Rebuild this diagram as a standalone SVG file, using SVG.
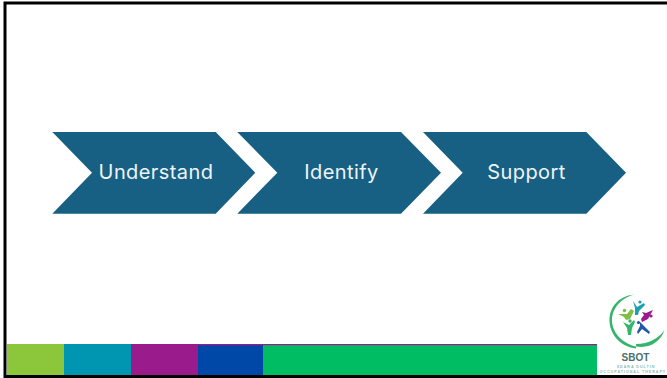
<svg xmlns="http://www.w3.org/2000/svg" width="667" height="378" viewBox="0 0 667 378">
<defs>
<filter id="soft" x="-10%" y="-10%" width="120%" height="120%"><feGaussianBlur stdDeviation="0.45"/></filter>
</defs>
<style>
.chev{fill:#176083}
.lbl{font-family:"Inter","Liberation Sans",sans-serif;font-size:20px;letter-spacing:.42px;fill:#eef4f7;text-anchor:middle}
.tiny{font-family:"Liberation Sans",sans-serif;font-size:3.6px;font-weight:700;fill:#86b9b4;text-anchor:middle;letter-spacing:1px}
</style>
<rect width="667" height="378" fill="#fff"/>
<g id="footer-bars">
<rect x="7" y="344" width="57" height="31" fill="#8cc63a"/>
<rect x="64" y="344" width="67" height="31" fill="#0096b1"/>
<rect x="131" y="344" width="67" height="31" fill="#9a1b8c"/>
<rect x="198" y="344" width="65" height="31" fill="#0048a8"/>
<rect x="263" y="344" width="334" height="31" fill="#00bd63"/>
<rect x="198" y="344" width="399" height="1.2" fill="#9a1b8c"/>
</g>
<g id="frame">
<rect x="5" y="3" width="664" height="373.5" fill="none" stroke="#000" stroke-width="3"/>
</g>
<g id="node-understand">
<polygon class="chev" points="52.3,132 215.7,132 255.3,172.8 215.7,213.7 52.3,213.7 92,172.8"/>
<text class="lbl" x="156" y="179">Understand</text>
</g>
<g id="node-identify">
<polygon class="chev" points="237.3,132 401,132 441,172.8 401,213.7 237.3,213.7 277.3,172.8"/>
<text class="lbl" x="341.5" y="179">Identify</text>
</g>
<g id="node-support">
<polygon class="chev" points="423,132 586.3,132 626,172.8 586.3,213.7 423,213.7 462.7,172.8"/>
<text class="lbl" x="526.5" y="179">Support</text>
</g>
<g id="logo">
<g filter="url(#soft)">
<path d="M634 294.5C618 296 609 308 609.5 321C610 335 621 347 636 348.5L636 346.5C624 344 612.5 334 612 321C611.5 309 621 298 634 294.5Z" fill="#35b56c"/>
<path d="M636 346.5C650 349 661 341 664.5 330C659 338 649 344 636 344Z" fill="#35b56c"/>
<path d="M618 314L627 314L631 309L634 311L630 319L626 320L624 317Z" fill="#7fbf45"/>
<circle cx="624.5" cy="310.5" r="1.8" fill="#7fbf45"/>
<path d="M633 301L637 307L644 303L645 305L639 311L638 315L635 315L635 308Z" fill="#1f9fb0"/>
<circle cx="640" cy="302" r="1.6" fill="#1f9fb0"/>
<path d="M653 310L648 319L642 322L641 319L644 315L642 312L646 313Z" fill="#9a1b8c"/>
<circle cx="651" cy="316" r="1.6" fill="#9a1b8c"/>
<path d="M640 322L644 326L650 332L649 334L642 329L638 334L637 332L640 326Z" fill="#2458a8"/>
<circle cx="638.5" cy="322.5" r="1.6" fill="#2458a8"/>
<path d="M623 322L629 325L634 320L635 322L632 328L631 335L628 335L627 328Z" fill="#35b56c"/>
<circle cx="630" cy="321" r="1.7" fill="#35b56c"/>
</g>
<text x="635.5" y="361" font-family="Liberation Sans,sans-serif" font-size="10" font-weight="700" fill="#4b6f70" text-anchor="middle">SBOT</text>
<text class="tiny" x="636" y="368">SDARA DULTIN</text>
<text class="tiny" x="633" y="372.5">OCCUPATIONAL THERAPY</text>
</g>
</svg>
